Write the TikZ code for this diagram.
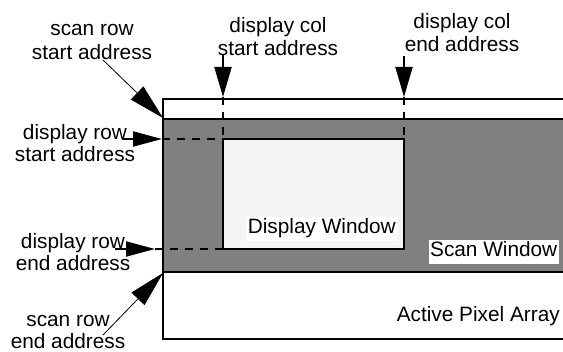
\documentclass[tikz,border=0pt]{standalone}
\usepackage{fontspec}
\setmainfont{Liberation Sans}
\usetikzlibrary{arrows.meta}
\definecolor{scangray}{RGB}{128,128,128}
\definecolor{dispfill}{RGB}{245,245,245}
\begin{document}
\begin{tikzpicture}[x=1pt,y=-1pt,
  rect/.style={draw=black, line width=2pt, anchor=north west, inner sep=0pt, outer sep=0pt},
  lbl/.style={font=\fontsize{20.8}{#1}\selectfont, align=center, inner sep=0pt, anchor=north},
  lbl/.default=24,
  winlbl/.style={font=\fontsize{20.8}{24}\selectfont, fill=white, inner xsep=2pt, inner ysep=2pt, text height=15pt, text depth=5pt, anchor=base east},
  bigarrow/.style={-{Triangle[length=30pt,width=17pt]}, line width=2pt},
  rowarrow/.style={-{Triangle[length=29pt,width=15pt]}, line width=2pt},
  thinarrow/.style={-{Triangle[length=36pt,width=18pt]}, line width=0.8pt},
  guide/.style={dash pattern=on 8pt off 7pt, line width=1.3pt}
]
\useasboundingbox (0,0) rectangle (563,352);
% rectangles
\node[rect, fill=white, minimum width=460pt, minimum height=240pt] (array) at (163,99) {};
\node[rect, fill=scangray, minimum width=460pt, minimum height=153pt] (scan) at (163,119) {};
\node[rect, fill=dispfill, minimum width=181pt, minimum height=110pt] (display) at (223,139) {};
% window labels
\node[winlbl] (dispLbl) at (398,234) {Display Window};
\node[winlbl, inner xsep=1.5pt] (scanLbl) at (559,257) {Scan Window};
\node[font=\fontsize{20.8}{24}\selectfont, anchor=base east, inner sep=0pt] (arrayLbl) at (560,322) {Active Pixel Array};
% address labels
\node[lbl] (scanStartLbl) at (92,18.2) {\strut scan row\\start address};
\node[lbl=23] (colStartLbl) at (278,15.9) {\strut display col\\start address};
\node[lbl=23] (colEndLbl) at (462,11.9) {\strut display col\\end address};
\node[lbl=18] (rowStartLbl) at (75,124.4) {\strut display row\\start address};
\node[lbl=20] (rowEndLbl) at (73,233) {\strut display row\\end address};
\node[lbl=20] (scanEndLbl) at (68,312) {\strut scan row\\end address};
% arrow end points
\coordinate (csTail) at (223,55);
\coordinate (csTip) at (223,97);
\coordinate (ceTail) at (404,56);
\coordinate (ceTip) at (404,97);
\coordinate (rsTail) at (122,139);
\coordinate (rsTip) at (162,139);
\coordinate (reTail) at (115,249);
\coordinate (reTip) at (155,249);
\coordinate (ssTail) at (103,60);
\coordinate (ssTip) at (163,118);
\coordinate (seTail) at (103,335);
\coordinate (seTip) at (163,273);
% guides
\draw[guide] (rsTip) -- (display.north west);
\draw[guide] (reTip) -- (display.south west);
\draw[guide] (csTip) -- (display.north west);
\draw[guide] (ceTip) -- (display.north east);
% arrows
\draw[bigarrow] (csTail) -- (csTip);
\draw[bigarrow] (ceTail) -- (ceTip);
\draw[rowarrow] (rsTail) -- (rsTip);
\draw[rowarrow] (reTail) -- (reTip);
\draw[thinarrow] (ssTail) -- (ssTip);
\draw[thinarrow] (seTail) -- (seTip);
\end{tikzpicture}
\end{document}
